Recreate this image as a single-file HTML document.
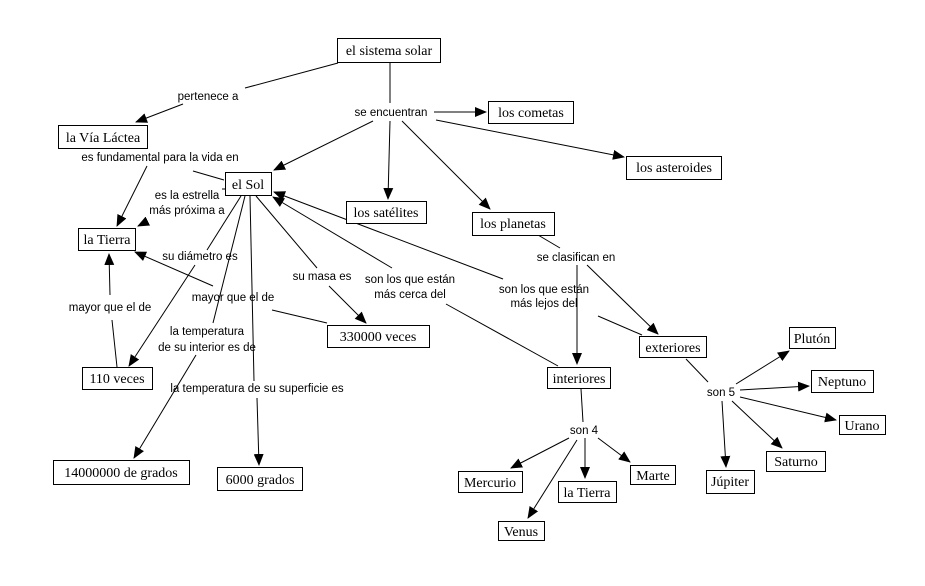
<!DOCTYPE html>
<html><head><meta charset="utf-8"><style>
body{margin:0;background:#fff;width:925px;height:581px;overflow:hidden}
svg text{font-family:"Liberation Sans",sans-serif;font-size:11.5px;fill:#000}
svg text.n{font-family:"Liberation Serif",serif;font-size:14px}
rect{fill:#fff;stroke:#000;stroke-width:1}
line{stroke:#000;stroke-width:1}
</style></head><body>
<svg width="925" height="581" xmlns="http://www.w3.org/2000/svg">
<defs><marker id="a" markerWidth="12" markerHeight="10" refX="11" refY="5" orient="auto" markerUnits="userSpaceOnUse"><path d="M0,0 L12,5 L0,10 z" fill="#000"/></marker></defs>
<g>
<line x1="338" y1="63" x2="245" y2="88"/><line x1="183" y1="104" x2="136" y2="122" marker-end="url(#a)"/>
<line x1="390" y1="62" x2="390" y2="103"/>
<line x1="434" y1="112" x2="486" y2="112" marker-end="url(#a)"/>
<line x1="436" y1="120" x2="624" y2="157" marker-end="url(#a)"/>
<line x1="373" y1="121" x2="274" y2="170" marker-end="url(#a)"/>
<line x1="390" y1="121" x2="388" y2="199" marker-end="url(#a)"/>
<line x1="402" y1="121" x2="490" y2="209" marker-end="url(#a)"/>
<line x1="224" y1="180" x2="193" y2="171"/><line x1="147" y1="166" x2="117" y2="226" marker-end="url(#a)"/>
<line x1="226" y1="189" x2="222" y2="189"/><line x1="146" y1="222" x2="138" y2="226" marker-end="url(#a)"/>
<line x1="241" y1="196" x2="207" y2="250"/><line x1="195" y1="265" x2="129" y2="366" marker-end="url(#a)"/>
<line x1="245" y1="196" x2="213" y2="323"/><line x1="196" y1="355" x2="134" y2="458" marker-end="url(#a)"/>
<line x1="250" y1="196" x2="254" y2="381"/><line x1="257" y1="398" x2="259" y2="465" marker-end="url(#a)"/>
<line x1="256" y1="196" x2="317" y2="268"/><line x1="329" y1="286" x2="366" y2="323" marker-end="url(#a)"/>
<line x1="558" y1="366" x2="446" y2="304"/><line x1="392" y1="268" x2="273" y2="197" marker-end="url(#a)"/>
<line x1="642" y1="335" x2="598" y2="316"/><line x1="503" y1="279" x2="274" y2="192" marker-end="url(#a)"/>
<line x1="327" y1="323" x2="272" y2="310"/><line x1="213" y1="286" x2="135" y2="252" marker-end="url(#a)"/>
<line x1="117" y1="367" x2="112" y2="320"/><line x1="110" y1="295" x2="109" y2="254" marker-end="url(#a)"/>
<line x1="538" y1="235" x2="560" y2="248"/>
<line x1="577" y1="265" x2="577" y2="364" marker-end="url(#a)"/>
<line x1="587" y1="265" x2="658" y2="334" marker-end="url(#a)"/>
<line x1="686" y1="359" x2="708" y2="382"/>
<line x1="736" y1="384" x2="789" y2="351" marker-end="url(#a)"/>
<line x1="740" y1="390" x2="809" y2="386" marker-end="url(#a)"/>
<line x1="740" y1="397" x2="836" y2="420" marker-end="url(#a)"/>
<line x1="732" y1="401" x2="782" y2="448" marker-end="url(#a)"/>
<line x1="722" y1="401" x2="726" y2="467" marker-end="url(#a)"/>
<line x1="581" y1="389" x2="583" y2="422"/>
<line x1="569" y1="438" x2="511" y2="468" marker-end="url(#a)"/>
<line x1="585" y1="438" x2="585" y2="478" marker-end="url(#a)"/>
<line x1="598" y1="438" x2="630" y2="462" marker-end="url(#a)"/>
<line x1="577" y1="440" x2="528" y2="518" marker-end="url(#a)"/>
</g>
<g>
<rect x="337.5" y="38.5" width="103" height="24"/><text class="n" x="389" y="55" text-anchor="middle">el sistema solar</text>
<rect x="58.5" y="125.5" width="89" height="23"/><text class="n" x="103" y="142" text-anchor="middle">la Vía Láctea</text>
<rect x="488.5" y="101.5" width="85" height="22"/><text class="n" x="531" y="117" text-anchor="middle">los cometas</text>
<rect x="626.5" y="156.5" width="95" height="23"/><text class="n" x="674" y="172" text-anchor="middle">los asteroides</text>
<rect x="225.5" y="172.5" width="46" height="23"/><text class="n" x="248" y="189" text-anchor="middle">el Sol</text>
<rect x="346.5" y="201.5" width="80" height="22"/><text class="n" x="386" y="217" text-anchor="middle">los satélites</text>
<rect x="472.5" y="212.5" width="82" height="23"/><text class="n" x="513" y="228" text-anchor="middle">los planetas</text>
<rect x="78.5" y="228.5" width="57" height="22"/><text class="n" x="107" y="244" text-anchor="middle">la Tierra</text>
<rect x="327.5" y="325.5" width="102" height="22"/><text class="n" x="378" y="341" text-anchor="middle">330000 veces</text>
<rect x="789.5" y="327.5" width="46" height="21"/><text class="n" x="812" y="343" text-anchor="middle">Plutón</text>
<rect x="639.5" y="336.5" width="67" height="21"/><text class="n" x="673" y="352" text-anchor="middle">exteriores</text>
<rect x="82.5" y="367.5" width="70" height="22"/><text class="n" x="117" y="383" text-anchor="middle">110 veces</text>
<rect x="547.5" y="367.5" width="63" height="21"/><text class="n" x="579" y="383" text-anchor="middle">interiores</text>
<rect x="811.5" y="370.5" width="62" height="22"/><text class="n" x="842" y="386" text-anchor="middle">Neptuno</text>
<rect x="839.5" y="415.5" width="46" height="19"/><text class="n" x="862" y="430" text-anchor="middle">Urano</text>
<rect x="766.5" y="451.5" width="59" height="20"/><text class="n" x="796" y="466" text-anchor="middle">Saturno</text>
<rect x="53.5" y="460.5" width="136" height="24"/><text class="n" x="121" y="477" text-anchor="middle">14000000 de grados</text>
<rect x="630.5" y="465.5" width="45" height="19"/><text class="n" x="653" y="480" text-anchor="middle">Marte</text>
<rect x="458.5" y="471.5" width="64" height="21"/><text class="n" x="490" y="487" text-anchor="middle">Mercurio</text>
<rect x="217.5" y="467.5" width="85" height="23"/><text class="n" x="260" y="484" text-anchor="middle">6000 grados</text>
<rect x="706.5" y="470.5" width="48" height="23"/><text class="n" x="730" y="486" text-anchor="middle">Júpiter</text>
<rect x="558.5" y="481.5" width="58" height="21"/><text class="n" x="587" y="497" text-anchor="middle">la Tierra</text>
<rect x="498.5" y="521.5" width="46" height="19"/><text class="n" x="521" y="536" text-anchor="middle">Venus</text>
</g>
<g text-anchor="middle">
<text x="208" y="100">pertenece a</text>
<text x="391" y="116">se encuentran</text>
<text x="160" y="161">es fundamental para la vida en</text>
<text x="187" y="199">es la estrella</text>
<text x="187" y="214">más próxima a</text>
<text x="200" y="260">su diámetro es</text>
<text x="576" y="261">se clasifican en</text>
<text x="322" y="280">su masa es</text>
<text x="410" y="283">son los que están</text>
<text x="410" y="298">más cerca del</text>
<text x="544" y="293">son los que están</text>
<text x="544" y="307">más lejos del</text>
<text x="233" y="301">mayor que el de</text>
<text x="110" y="311">mayor que el de</text>
<text x="207" y="335">la temperatura</text>
<text x="207" y="351">de su interior es de</text>
<text x="721" y="396">son 5</text>
<text x="257" y="392">la temperatura de su superficie es</text>
<text x="584" y="434">son 4</text>
</g>
</svg>
</body></html>
